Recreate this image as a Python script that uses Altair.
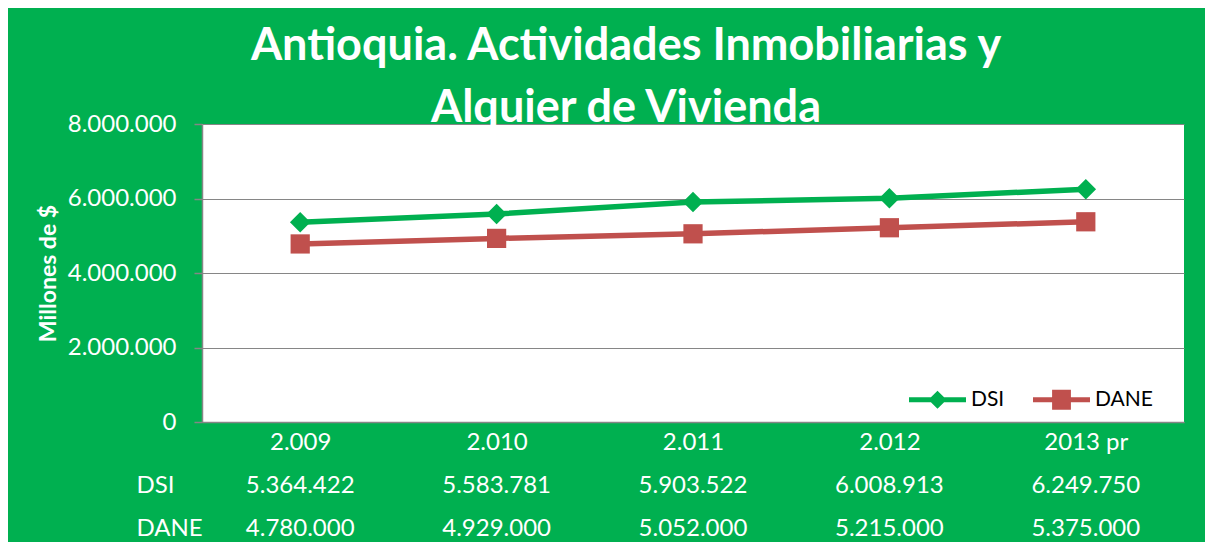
import altair as alt
import pandas as pd

# ---- data ----
categories = ["2.009", "2.010", "2.011", "2.012", "2013 pr"]
series_names = ["DSI", "DANE"]
dsi_values = [5364422, 5583781, 5903522, 6008913, 6249750]
dane_values = [4780000, 4929000, 5052000, 5215000, 5375000]
y_ticks = [0, 2000000, 4000000, 6000000, 8000000]
title_lines = ["Antioquia. Actividades Inmobiliarias y", "Alquier de Vivienda"]
y_title = "Millones de $"

# ---- styles ----
series_colors = ["#00B050", "#C0504D"]
BG = "#00B050"
GRID = "#868686"
FONT = "Lato"
legend_paths = [
    "M-1,-0.09 L1,-0.09 L1,0.09 L-1,0.09 Z M0,-0.32 L0.32,0 L0,0.32 L-0.32,0 Z",
    "M-1,-0.09 L1,-0.09 L1,0.09 L-1,0.09 Z M-0.33,-0.35 L0.33,-0.35 L0.33,0.35 L-0.33,0.35 Z",
]

rows = []
for name, vals in zip(series_names, [dsi_values, dane_values]):
    for c, v in zip(categories, vals):
        rows.append({"periodo": c, "serie": name, "valor": v})
df = pd.DataFrame(rows)

dot_fmt_value = "replace(replace(format(datum.value, ','), ',', '.'), ',', '.')"
dot_fmt_valor = "replace(replace(format(datum.valor, ','), ',', '.'), ',', '.')"

W, H = 982, 298
LBL = 24

x_scale = alt.Scale(type="point", padding=0.5)
x_enc = alt.X(
    "periodo:N", sort=categories, scale=x_scale,
    axis=alt.Axis(title=None, labelAngle=0, ticks=False, grid=False,
                  domainColor=GRID, domainWidth=1.5,
                  labelColor="white", labelFont=FONT, labelFontSize=LBL,
                  labelPadding=8),
)
y_enc = alt.Y(
    "valor:Q", scale=alt.Scale(domain=[0, 8000000], nice=False),
    axis=alt.Axis(values=y_ticks, labelExpr=dot_fmt_value, title=y_title,
                  grid=True, gridColor=GRID, gridWidth=1.2,
                  domainColor=GRID, domainWidth=1.5,
                  tickColor=GRID, tickSize=8, tickWidth=1.5,
                  labelColor="white", labelFont=FONT, labelFontSize=LBL,
                  labelPadding=18,
                  titleColor="white", titleFont=FONT, titleFontSize=23,
                  titleFontWeight="bold", titlePadding=7),
)
color_scale = alt.Scale(domain=series_names, range=series_colors)

base = alt.Chart(df)

leg = alt.Legend(
    title=None, orient="none", direction="horizontal",
    legendX=707, legendY=247, padding=0,
    symbolSize=3249, symbolStrokeWidth=0, symbolOpacity=1,
    labelColor="black", labelFont=FONT, labelFontSize=21, labelOffset=5,
    columnPadding=28,
)
legend_layer = base.mark_point(filled=True, opacity=0).encode(
    x=x_enc, y=y_enc,
    color=alt.Color("serie:N", scale=color_scale, legend=leg),
    shape=alt.Shape("serie:N", scale=alt.Scale(domain=series_names, range=legend_paths), legend=leg),
)
lines = base.mark_line(strokeWidth=5.5).encode(
    x=x_enc, y=y_enc, color=alt.Color("serie:N", scale=color_scale, legend=None)
)
dsi_pts = base.transform_filter(alt.datum.serie == series_names[0]).mark_point(
    shape="diamond", filled=True, size=420, opacity=1
).encode(x=x_enc, y=y_enc, color=alt.Color("serie:N", scale=color_scale, legend=None))
dane_pts = base.transform_filter(alt.datum.serie == series_names[1]).mark_square(
    size=370, opacity=1
).encode(x=x_enc, y=y_enc, color=alt.Color("serie:N", scale=color_scale, legend=None))

top = alt.layer(legend_layer, lines, dsi_pts, dane_pts).properties(
    width=W, height=H,
    title=alt.TitleParams(
        text=title_lines, anchor="middle", frame="group", dx=-67,
        color="white", font=FONT, fontSize=45, fontWeight="bold",
        lineHeight=62, offset=-19,
    ),
    view=alt.ViewBackground(fill="white", stroke=None),
)

table = alt.Chart(df).transform_calculate(texto=dot_fmt_valor).mark_text(
    font=FONT, fontSize=LBL, color="white"
).encode(
    x=alt.X("periodo:N", sort=categories, scale=x_scale, axis=None),
    y=alt.Y("serie:N", sort=series_names,
            scale=alt.Scale(type="band", paddingInner=0, paddingOuter=0),
            axis=alt.Axis(title=None, ticks=False, domain=False, labelAlign="left",
                          labelPadding=66, labelColor="white", labelFont=FONT,
                          labelFontSize=LBL, labelBaseline="middle")),
    text="texto:N",
).properties(width=W, height=86, view=alt.ViewBackground(fill=None, stroke=None))

chart = alt.vconcat(top, table, spacing=42, bounds="flush").properties(
    padding={"left": 29, "top": 16, "right": 21, "bottom": 10},
    background=BG,
).configure_view(stroke=None)

chart.save("out.html", embed_options={"renderer": "svg", "actions": False})
